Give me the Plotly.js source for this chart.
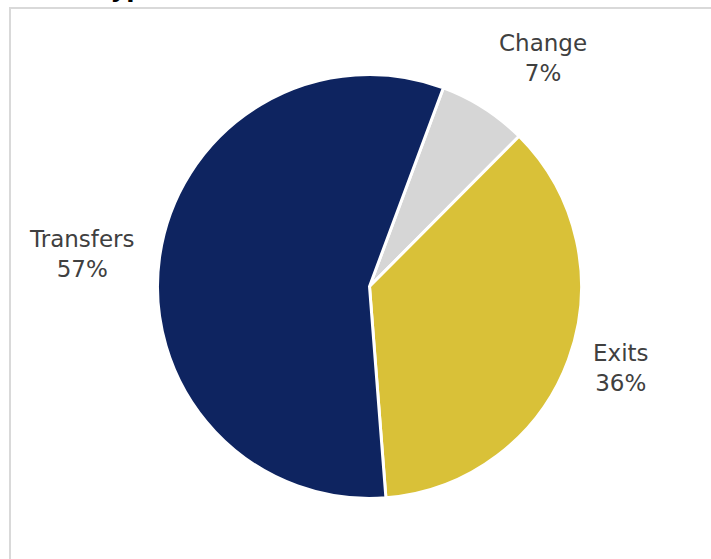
<!DOCTYPE html>
<html>
<head>
<meta charset="utf-8">
<script src="https://cdn.plot.ly/plotly-3.0.1.min.js"></script>
<style>html,body{margin:0;padding:0;background:#fff;}#chart{width:711px;height:559px;}</style>
</head>
<body>
<div id="chart"></div>
<script>
// Data
const categories = ["Change", "Exits", "Transfers"];
const values = [6.8, 36.3, 56.9];
const colors = ["#d6d6d6", "#d9c138", "#0e2460"];
const titleText = "Type";

const W = 711, H = 559;
const cx = 369.5, cy = 286.5, R = 212;
const rotation = 20.4;

// Labels placed outside each slice from its mid angle (derived from data)
const total = values.reduce((a, b) => a + b, 0);
const annotations = [];
let start = rotation;
values.forEach((v, i) => {
  const sweep = v / total * 360;
  const mid = (start + sweep / 2) * Math.PI / 180;
  start += sweep;
  const s = Math.sin(mid), c = Math.cos(mid);
  const rr = R + 24;
  const px = cx + rr * s, py = cy - rr * c;
  annotations.push({
    xref: "paper", yref: "paper",
    x: px / W, y: 1 - py / H,
    xanchor: s > 0.3 ? "left" : (s < -0.3 ? "right" : "center"),
    yanchor: c > 0.5 ? "bottom" : (c < -0.5 ? "top" : "middle"),
    showarrow: false,
    align: "center",
    text: categories[i] + "<br>" + Math.round(v / total * 100) + "%",
    font: {family: "DejaVu Sans", size: 23, color: "#404040"}
  });
});

// Partially visible chart title at the very top
annotations.push({
  xref: "paper", yref: "paper",
  x: 95 / W, y: 1 - 5 / H,
  xanchor: "left", yanchor: "bottom",
  showarrow: false,
  text: "<b>" + titleText + "</b>",
  font: {family: "DejaVu Sans", size: 24, color: "#000000"}
});

const trace = {
  type: "pie",
  labels: categories,
  values: values,
  sort: false,
  direction: "clockwise",
  rotation: rotation,
  marker: {colors: colors, line: {color: "#ffffff", width: 3}},
  textinfo: "none",
  hoverinfo: "label+percent",
  showlegend: false,
  domain: {x: [(cx - R) / W, (cx + R) / W], y: [1 - (cy + R) / H, 1 - (cy - R) / H]}
};

const layout = {
  width: W, height: H,
  margin: {l: 0, r: 0, t: 0, b: 0},
  paper_bgcolor: "#ffffff",
  showlegend: false,
  annotations: annotations,
  shapes: [{
    type: "rect", xref: "paper", yref: "paper",
    x0: 10 / W, x1: 1.2, y0: -0.2, y1: 1 - 8 / H,
    line: {color: "#d9d9d9", width: 2},
    fillcolor: "rgba(0,0,0,0)", layer: "below"
  }]
};

Plotly.newPlot("chart", [trace], layout, {displayModeBar: false, staticPlot: true});
</script>
</body>
</html>
